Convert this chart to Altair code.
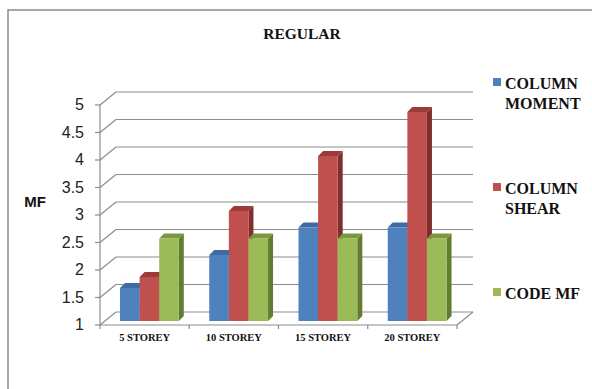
import altair as alt
import pandas as pd

# ---- chart values ----
categories = ["5 STOREY", "10 STOREY", "15 STOREY", "20 STOREY"]
series = ["COLUMN\nMOMENT", "COLUMN\nSHEAR", "CODE MF"]
column_moment = [1.6, 2.2, 2.7, 2.7]
column_shear = [1.8, 3.0, 4.0, 4.8]
code_mf = [2.5, 2.5, 2.5, 2.5]
y_ticks = [1, 1.5, 2, 2.5, 3, 3.5, 4, 4.5, 5]
y_tick_labels = ["1", "1.5", "2", "2.5", "3", "3.5", "4", "4.5", "5"]

front_colors = ["#4F81BD", "#C0504D", "#9BBB59"]
top_colors = ["#3E6BA3", "#9E3B38", "#7A973F"]
side_colors = ["#325482", "#7F2F2D", "#627D2F"]
grid_color = "#8C8C8C"
serif = "Liberation Serif"
sans = "Liberation Sans"

# ---- pseudo-3D geometry (pixels) ----
PX_X = 89.25          # pixels per category slot
PX_Y = 55.0           # pixels per MF unit
W, H = 374, 234       # plot area
WALL_DX, WALL_DY = 16, 13
BAR_DX, BAR_DY = 5, 5
BAR_LIFT = 4
GROUP_START = 20
BAR_W = 19.6

x_max = W / PX_X
y_min = 1.0
y_max = y_min + H / PX_Y
wdx, wdy = WALL_DX / PX_X, WALL_DY / PX_Y
bdx, bdy = BAR_DX / PX_X, BAR_DY / PX_Y
lift = BAR_LIFT / PX_Y

xs = alt.Scale(domain=[0, x_max], nice=False, zero=False)
ys = alt.Scale(domain=[y_min, y_max], nice=False, zero=False)
n_cat = len(categories)

# ---- bar tables ----
fronts, sides, tops = [], [], []
for i, cat in enumerate(categories):
    for j, vals in enumerate([column_moment, column_shear, code_mf]):
        v = vals[i]
        bid = f"{i}-{j}"
        xl = i + (GROUP_START + j * BAR_W) / PX_X
        xr = xl + BAR_W / PX_X
        base = y_min + lift
        top = v + lift
        fronts.append(dict(bid=bid, x=xl, x2=xr, y=top, y2=base, fill=front_colors[j],
                           cat=cat, value=v))
        sides += [
            dict(bid=bid, x=xr, y=top, y2=base, fill=side_colors[j]),
            dict(bid=bid, x=xr + bdx, y=top + bdy, y2=base + bdy, fill=side_colors[j]),
        ]
        tops += [
            dict(bid=bid, x=xl, y=top, y2=top, fill=top_colors[j]),
            dict(bid=bid, x=xl + bdx, y=top + bdy, y2=top, fill=top_colors[j]),
            dict(bid=bid, x=xr, y=top + bdy, y2=top, fill=top_colors[j]),
            dict(bid=bid, x=xr + bdx, y=top + bdy, y2=top + bdy, fill=top_colors[j]),
        ]

fronts_df = pd.DataFrame(fronts)
sides_df = pd.DataFrame(sides)
tops_df = pd.DataFrame(tops)

# ---- walls ----
back_grid = pd.DataFrame({"x": [wdx] * len(y_ticks), "x2": [n_cat + wdx] * len(y_ticks),
                          "y": [t + wdy for t in y_ticks]})
left_wall = pd.DataFrame({"x": [0.0] * len(y_ticks), "x2": [wdx] * len(y_ticks),
                          "y": y_ticks, "y2": [t + wdy for t in y_ticks],
                          "label": y_tick_labels})
frame = pd.DataFrame({
    "x": [0.0, 0.0, n_cat],
    "x2": [0.0, n_cat, n_cat + wdx],
    "y": [y_ticks[0], y_ticks[0], y_ticks[0]],
    "y2": [y_ticks[-1], y_ticks[0], y_ticks[0] + wdy],
})
cat_ticks = pd.DataFrame({"x": list(range(n_cat + 1)), "y": [y_min] * (n_cat + 1)})
cat_labels = pd.DataFrame({"x": [i + 0.5 for i in range(n_cat)], "label": categories})

walls_left = alt.Chart(left_wall).mark_rule(color=grid_color, strokeWidth=1.2).encode(
    x=alt.X("x:Q", scale=xs, axis=None), x2="x2:Q",
    y=alt.Y("y:Q", scale=ys, axis=None), y2="y2:Q",
)
walls_back = alt.Chart(back_grid).mark_rule(color=grid_color, strokeWidth=1.2).encode(
    x=alt.X("x:Q", scale=xs, axis=None), x2="x2:Q",
    y=alt.Y("y:Q", scale=ys, axis=None),
)
frame_lines = alt.Chart(frame).mark_rule(color=grid_color, strokeWidth=1.2).encode(
    x=alt.X("x:Q", scale=xs, axis=None), x2="x2:Q",
    y=alt.Y("y:Q", scale=ys, axis=None), y2="y2:Q",
)

# value axis: short ticks left of the front edge plus labels
y_tick_marks = alt.Chart(left_wall).mark_rule(color=grid_color, strokeWidth=1.2).encode(
    x=alt.value(-5), x2=alt.value(0),
    y=alt.Y("y:Q", scale=ys, axis=None),
)
y_labels = alt.Chart(left_wall).mark_text(
    font=sans, fontSize=16, color="#222", align="right", baseline="middle").encode(
    x=alt.value(-16), y=alt.Y("y:Q", scale=ys, axis=None), text="label:N")

# category axis: ticks under the floor edge plus labels
cat_tick_marks = alt.Chart(cat_ticks).mark_rule(color=grid_color, strokeWidth=1.2).encode(
    x=alt.X("x:Q", scale=xs, axis=None),
    y=alt.Y("y:Q", scale=ys, axis=None),
    y2=alt.value(H + 4),
)
x_labels = alt.Chart(cat_labels).mark_text(
    font=serif, fontWeight="bold", fontSize=10.5, color="#111",
    align="center", baseline="middle").encode(
    x=alt.X("x:Q", scale=xs, axis=None), y=alt.value(H + 13), text="label:N")

# ---- bars ----
side_faces = alt.Chart(sides_df).mark_area(orient="vertical").encode(
    x=alt.X("x:Q", scale=xs, axis=None),
    y=alt.Y("y:Q", scale=ys, axis=None), y2="y2:Q",
    detail="bid:N",
    fill=alt.Fill("fill:N", scale=None),
)
top_faces = alt.Chart(tops_df).mark_area(orient="vertical").encode(
    x=alt.X("x:Q", scale=xs, axis=None),
    y=alt.Y("y:Q", scale=ys, axis=None), y2="y2:Q",
    detail="bid:N",
    fill=alt.Fill("fill:N", scale=None),
)
front_faces = alt.Chart(fronts_df).mark_rect().encode(
    x=alt.X("x:Q", scale=xs, axis=None), x2="x2:Q",
    y=alt.Y("y:Q", scale=ys, axis=None), y2="y2:Q",
    fill=alt.Fill("fill:N", scale=None),
)

# ---- texts, legend and outer border ----
one = pd.DataFrame({"k": [0]})
border = alt.Chart(one).mark_rect(fill="transparent", stroke="#8A8A8A", strokeWidth=1.5).encode(
    x=alt.value(-92), y=alt.value(-81), x2=alt.value(520), y2=alt.value(320))
title = alt.Chart(one).mark_text(text="REGULAR", font=serif, fontWeight="bold", fontSize=15.5,
                                 baseline="middle", align="center", color="#111").encode(
    x=alt.value(202), y=alt.value(-57))
y_title = alt.Chart(one).mark_text(text="MF", font=sans, fontWeight="bold", fontSize=15,
                                   baseline="middle", align="center", color="#111").encode(
    x=alt.value(-65), y=alt.value(111))

legend_layers = []
for j, (name, col) in enumerate(zip(series, front_colors)):
    row_y = -9 + j * 105
    legend_layers.append(alt.Chart(one).mark_square(size=64, opacity=1, color=col).encode(
        x=alt.value(397), y=alt.value(row_y)))
    legend_layers.append(alt.Chart(one).mark_text(
        text=name, font=serif, fontWeight="bold", fontSize=16, align="left",
        baseline="alphabetic", lineBreak="\n", lineHeight=19.5, color="#111").encode(
        x=alt.value(405), y=alt.value(row_y + 7)))

chart = alt.layer(
    border, walls_left, walls_back, frame_lines, y_tick_marks, y_labels,
    cat_tick_marks, x_labels,
    side_faces, top_faces, front_faces,
    title, y_title, *legend_layers,
).properties(
    width=W, height=H, autosize="none",
    padding={"left": 100, "top": 91, "right": 592 - 100 - W, "bottom": 389 - 91 - H},
).configure_view(stroke=None)

chart.save("out.html", embed_options={"renderer": "svg", "actions": False})
